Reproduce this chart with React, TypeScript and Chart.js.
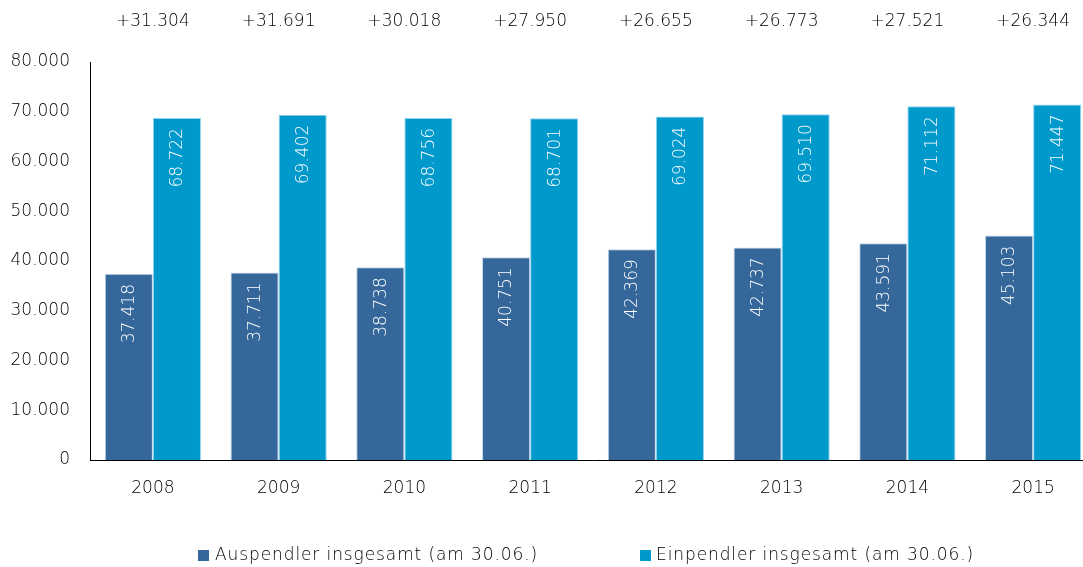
import React, { useEffect, useRef } from "react";
import { Chart, registerables } from "chart.js";

Chart.register(...registerables);

const years = ["2008", "2009", "2010", "2011", "2012", "2013", "2014", "2015"];
const auspendler = [37418, 37711, 38738, 40751, 42369, 42737, 43591, 45103];
const einpendler = [68722, 69402, 68756, 68701, 69024, 69510, 71112, 71447];
const saldo = [31304, 31691, 30018, 27950, 26655, 26773, 27521, 26344];
const seriesNames = ["Auspendler insgesamt (am 30.06.)", "Einpendler insgesamt (am 30.06.)"];
const colors = ["#35679A", "#0099CC"];

const FONT = "DejaVu Sans";
const WEIGHT = 300;
const TEXT = "#000000";
const fmt = (v: number) => String(v).replace(/\B(?=(\d{3})+(?!\d))/g, ".");

const labelsPlugin = {
  id: "customLabels",
  afterDatasetsDraw(chart: any) {
    const ctx = chart.ctx;
    ctx.save();
    ctx.font = `${WEIGHT} 17px "${FONT}"`;
    ctx.fillStyle = "#ffffff";
    chart.data.datasets.forEach((ds: any, di: number) => {
      const meta = chart.getDatasetMeta(di);
      meta.data.forEach((el: any, i: number) => {
        ctx.save();
        ctx.translate(el.x, el.y + 10);
        ctx.rotate(-Math.PI / 2);
        ctx.textAlign = "right";
        ctx.textBaseline = "middle";
        ctx.fillText(fmt(ds.data[i]), 0, 1);
        ctx.restore();
      });
    });
    const xs = chart.scales.x;
    ctx.fillStyle = TEXT;
    ctx.textAlign = "center";
    ctx.textBaseline = "middle";
    saldo.forEach((v, i) => {
      ctx.fillText("+" + fmt(v), xs.getPixelForValue(i), 22);
    });
    ctx.textAlign = "left";
    (ctx as any).letterSpacing = "0.9px";
    const items = [
      { sx: 198, tx: 215 },
      { sx: 640, tx: 656 },
    ];
    items.forEach((it, i) => {
      ctx.fillStyle = colors[i];
      ctx.fillRect(it.sx, 550, 11, 11);
      ctx.fillStyle = TEXT;
      ctx.fillText(seriesNames[i], it.tx, 556);
    });
    ctx.restore();
  },
};

export default function App() {
  const ref = useRef<HTMLCanvasElement>(null);
  useEffect(() => {
    document.body.style.margin = "0";
    document.body.style.overflow = "hidden";
    document.documentElement.style.overflow = "hidden";
    const chart = new Chart(ref.current!, {
      type: "bar",
      data: {
        labels: years,
        datasets: [
          {
            label: seriesNames[0],
            data: auspendler,
            backgroundColor: colors[0],
            borderColor: "rgba(150,190,225,0.6)",
            borderWidth: 1,
            categoryPercentage: 0.765,
            barPercentage: 1,
          },
          {
            label: seriesNames[1],
            data: einpendler,
            backgroundColor: colors[1],
            borderColor: "rgba(120,200,235,0.8)",
            borderWidth: 1,
            categoryPercentage: 0.765,
            barPercentage: 1,
          },
        ],
      },
      options: {
        responsive: false,
        animation: false,
        layout: { padding: { top: 62, right: 4, left: 0, bottom: 0 } },
        plugins: {
          legend: { display: false },
          tooltip: { enabled: false },
        },
        scales: {
          x: {
            grid: { display: false },
            border: { display: true, color: "#000", width: 1 },
            ticks: {
              color: TEXT,
              font: { family: FONT, size: 17, weight: WEIGHT as any },
              padding: 10,
              maxRotation: 0,
            },
            afterFit: (s: any) => {
              s.height = 107;
            },
          },
          y: {
            min: 0,
            max: 80000,
            grid: { display: false, drawTicks: false },
            border: { display: true, color: "#000", width: 1 },
            ticks: {
              stepSize: 10000,
              color: TEXT,
              font: { family: FONT, size: 17, weight: WEIGHT as any },
              padding: 20,
              callback: (v: any) => fmt(Number(v)),
            },
            afterFit: (s: any) => {
              s.width = 90;
            },
          },
        },
      },
      plugins: [labelsPlugin],
    });
    return () => chart.destroy();
  }, []);
  return <canvas ref={ref} width={1100} height={567} style={{ display: "block" }} />;
}
